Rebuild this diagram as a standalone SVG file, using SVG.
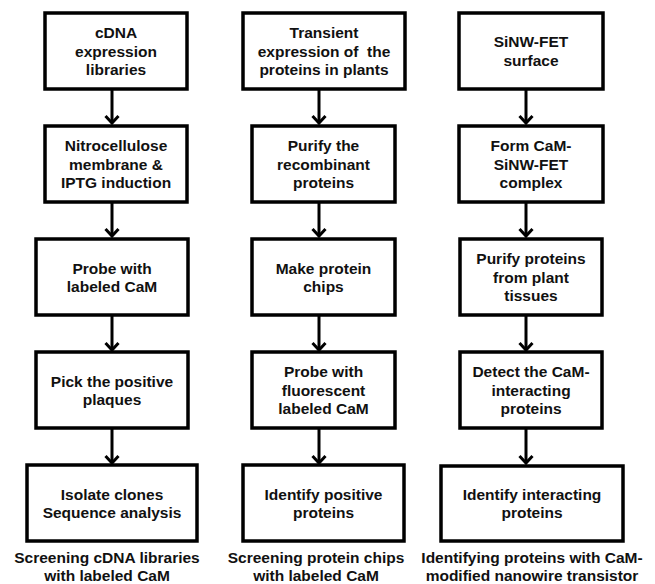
<svg xmlns="http://www.w3.org/2000/svg" width="655" height="584" viewBox="0 0 655 584">
<style>
.box{fill:#fff;stroke:#000;stroke-width:3.5}
.t{font-family:"Liberation Sans",Arial,sans-serif;font-weight:bold;font-size:15.5px;fill:#111;text-anchor:middle;white-space:pre}
.ar{stroke:#000;stroke-width:3;fill:none}
</style>
<defs>
<marker id="ah" markerUnits="userSpaceOnUse" markerWidth="20" markerHeight="20" viewBox="-10 -10 20 20" refX="0" refY="0" orient="auto">
<path d="M-7,-6.5 L0,0 L-7,6.5" fill="none" stroke="#000" stroke-width="3" stroke-linejoin="miter"/>
</marker>
</defs>
<rect width="655" height="584" fill="#fff"/>
<g id="connectors">
<line class="ar" x1="112" y1="89" x2="112" y2="123" marker-end="url(#ah)"/>
<line class="ar" x1="112" y1="202" x2="112" y2="236" marker-end="url(#ah)"/>
<line class="ar" x1="112" y1="315" x2="112" y2="350" marker-end="url(#ah)"/>
<line class="ar" x1="112" y1="428" x2="112" y2="463" marker-end="url(#ah)"/>
<line class="ar" x1="319" y1="89" x2="319" y2="123" marker-end="url(#ah)"/>
<line class="ar" x1="319" y1="202" x2="319" y2="236" marker-end="url(#ah)"/>
<line class="ar" x1="319" y1="315" x2="319" y2="350" marker-end="url(#ah)"/>
<line class="ar" x1="319" y1="428" x2="319" y2="463" marker-end="url(#ah)"/>
<line class="ar" x1="526" y1="89" x2="526" y2="123" marker-end="url(#ah)"/>
<line class="ar" x1="526" y1="202" x2="526" y2="236" marker-end="url(#ah)"/>
<line class="ar" x1="526" y1="315" x2="526" y2="350" marker-end="url(#ah)"/>
<line class="ar" x1="526" y1="428" x2="526" y2="463" marker-end="url(#ah)"/>
</g>
<!-- Column 1 -->
<g id="c1n1"><rect class="box" x="45" y="13" width="142" height="76"/>
<text class="t" x="116" y="38">cDNA</text><text class="t" x="116" y="56.5">expression</text><text class="t" x="116" y="75">libraries</text></g>
<g id="c1n2"><rect class="box" x="45" y="126" width="142" height="76"/>
<text class="t" x="116" y="151">Nitrocellulose</text><text class="t" x="116" y="169.5">membrane &amp;</text><text class="t" x="116" y="188">IPTG induction</text></g>
<g id="c1n3"><rect class="box" x="36" y="239" width="152" height="76"/>
<text class="t" x="112" y="273.5">Probe with</text><text class="t" x="112" y="292">labeled CaM</text></g>
<g id="c1n4"><rect class="box" x="36" y="352" width="152" height="76"/>
<text class="t" x="112" y="386.5">Pick the positive</text><text class="t" x="112" y="405">plaques</text></g>
<g id="c1n5"><rect class="box" x="27" y="465" width="170" height="76"/>
<text class="t" x="112" y="499.5">Isolate clones</text><text class="t" x="112" y="518">Sequence analysis</text></g>
<g id="cap1"><text class="t" x="107" y="563">Screening cDNA libraries</text><text class="t" x="107" y="581">with labeled CaM</text></g>
<!-- Column 2 -->
<g id="c2n1"><rect class="box" x="243" y="13" width="162" height="76"/>
<text class="t" x="324" y="38">Transient</text><text class="t" x="324" y="56.5">expression of  the</text><text class="t" x="324" y="75">proteins in plants</text></g>
<g id="c2n2"><rect class="box" x="252" y="126" width="143" height="76"/>
<text class="t" x="323.5" y="151">Purify the</text><text class="t" x="323.5" y="169.5">recombinant</text><text class="t" x="323.5" y="188">proteins</text></g>
<g id="c2n3"><rect class="box" x="252" y="239" width="143" height="76"/>
<text class="t" x="323.5" y="273.5">Make protein</text><text class="t" x="323.5" y="292">chips</text></g>
<g id="c2n4"><rect class="box" x="252" y="352" width="143" height="76"/>
<text class="t" x="323.5" y="377">Probe with</text><text class="t" x="323.5" y="395.5">fluorescent</text><text class="t" x="323.5" y="414">labeled CaM</text></g>
<g id="c2n5"><rect class="box" x="243" y="465" width="161" height="76"/>
<text class="t" x="323.5" y="499.5">Identify positive</text><text class="t" x="323.5" y="518">proteins</text></g>
<g id="cap2"><text class="t" x="316" y="563">Screening protein chips</text><text class="t" x="316" y="581">with labeled CaM</text></g>
<!-- Column 3 -->
<g id="c3n1"><rect class="box" x="459" y="13" width="144" height="76"/>
<text class="t" x="531" y="47">SiNW-FET</text><text class="t" x="531" y="65.5">surface</text></g>
<g id="c3n2"><rect class="box" x="459" y="126" width="144" height="76"/>
<text class="t" x="531" y="151">Form CaM-</text><text class="t" x="531" y="169.5">SiNW-FET</text><text class="t" x="531" y="188">complex</text></g>
<g id="c3n3"><rect class="box" x="460" y="239" width="142" height="76"/>
<text class="t" x="531" y="264">Purify proteins</text><text class="t" x="531" y="282.5">from plant</text><text class="t" x="531" y="301">tissues</text></g>
<g id="c3n4"><rect class="box" x="460" y="352" width="142" height="76"/>
<text class="t" x="531" y="377">Detect the CaM-</text><text class="t" x="531" y="395.5">interacting</text><text class="t" x="531" y="414">proteins</text></g>
<g id="c3n5"><rect class="box" x="441" y="466" width="182" height="75"/>
<text class="t" x="532" y="499.5">Identify interacting</text><text class="t" x="532" y="518">proteins</text></g>
<g id="cap3"><text class="t" x="532" y="563">Identifying proteins with CaM-</text><text class="t" x="532" y="581">modified nanowire transistor</text></g>
</svg>
